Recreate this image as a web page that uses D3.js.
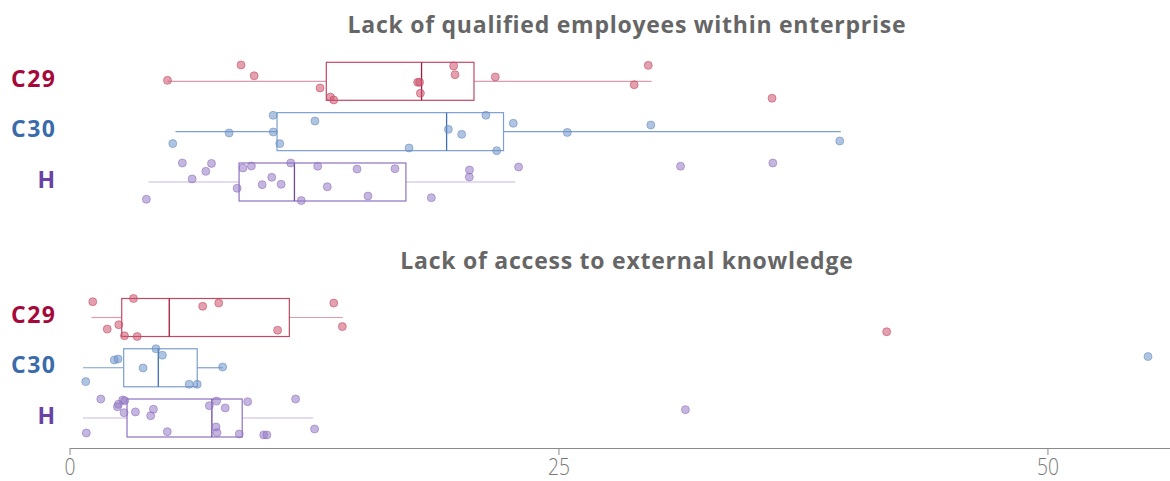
<!DOCTYPE html>
<html>
<head>
<meta charset="utf-8">
<script src="https://cdn.jsdelivr.net/npm/d3@7"></script>
<style>
  html, body { margin: 0; padding: 0; background: #fff; }
  svg { display: block; }
  .title { font-family: "Open Sans", "Noto Sans", sans-serif; font-weight: 700; fill: #666; }
  .cat { font-family: "Open Sans", "Noto Sans", sans-serif; font-weight: 700; }
  .tick text { font-family: "Open Sans", "Noto Sans", sans-serif; font-weight: 300; }
</style>
</head>
<body>
<svg id="chart" width="1170" height="481"></svg>
<script>
// Sectors shown in each panel
const categories = ["C29", "C30", "H"];
const panelTitles = [
  "Lack of qualified employees within enterprise",
  "Lack of access to external knowledge"
];
const xTicks = [0, 25, 50];

// Panel 1 – Lack of qualified employees within enterprise (per-enterprise values)
const qualifiedC29 = [5.01, 8.77, 9.44, 12.81, 13.34, 13.51, 17.8, 17.9, 17.94, 19.64, 19.71, 21.77, 28.87, 29.59, 35.92];
const qualifiedC30 = [10.41, 12.55, 8.16, 10.42, 5.28, 10.75, 17.36, 19.37, 20.05, 21.29, 21.84, 22.69, 25.45, 29.72, 39.38];
const qualifiedH = [5.77, 7.26, 6.97, 6.27, 3.93, 8.57, 8.87, 9.3, 9.85, 10.34, 10.82, 11.31, 11.85, 12.69, 13.18, 14.7, 15.26, 16.64, 18.5, 20.45, 20.44, 22.96, 31.24, 35.96];

// Panel 2 – Lack of access to external knowledge
const knowledgeC29 = [1.19, 3.27, 1.93, 2.52, 2.81, 3.46, 6.81, 7.63, 10.64, 13.51, 13.95, 41.78];
const knowledgeC30 = [4.42, 4.75, 2.29, 2.48, 3.76, 7.83, 0.83, 6.12, 6.53, 55.14];
const knowledgeH = [1.6, 2.72, 2.82, 2.5, 2.45, 2.79, 3.37, 4.29, 4.15, 0.86, 5.0, 7.15, 7.52, 7.96, 7.49, 7.54, 8.68, 9.11, 9.93, 10.09, 11.56, 12.53, 31.49];

// Vertical jitter of each point within its row, from -1 (top) to 1 (bottom)
const qualifiedC29Jitter = [-0.05, -0.86, -0.29, 0.35, 0.83, 0.98, 0.05, 0.05, 0.63, -0.81, -0.35, -0.23, 0.18, -0.84, 0.89];
const qualifiedC30Jitter = [-0.86, -0.56, 0.07, 0.02, 0.63, 0.63, 0.86, -0.12, 0.14, -0.86, 1.0, -0.44, 0.04, -0.35, 0.49];
const qualifiedHJitter = [-1.0, -0.98, -0.56, -0.16, 0.91, 0.33, -0.74, -0.84, 0.14, -0.25, 0.12, -1.0, 0.98, -0.83, 0.25, -0.68, 0.74, -0.7, 0.83, -0.63, -0.26, -0.79, -0.83, -1.0];
const knowledgeC29Jitter = [-0.83, -1.0, 0.61, 0.38, 0.96, 1.0, -0.59, -0.76, 0.67, -0.76, 0.48, 0.75];
const knowledgeC30Jitter = [-1.0, -0.66, -0.41, -0.46, 0.01, -0.04, 0.73, 0.87, 0.87, -0.59];
const knowledgeHJitter = [-1.0, -0.95, -0.91, -0.72, -0.59, -0.28, -0.32, -0.46, -0.12, 0.79, 0.72, -0.65, -0.89, -0.53, 0.47, 0.77, 0.84, -0.86, 0.89, 0.89, -1.0, 0.58, -0.44];

// Box statistics per sector: [lower whisker, Q1, median, Q3, upper whisker]
const qualifiedBoxes = [
  [5.01, 13.13, 18.0, 20.68, 29.76],
  [5.42, 10.61, 19.28, 22.19, 39.43],
  [4.04, 8.67, 11.5, 17.2, 22.79]
];
const knowledgeBoxes = [
  [1.12, 2.67, 5.1, 11.24, 13.97],
  [0.7, 2.77, 4.54, 6.53, 7.83],
  [0.69, 2.94, 7.28, 8.83, 12.46]
];

const panels = [
  { title: panelTitles[0], boxes: qualifiedBoxes,
    values: [qualifiedC29, qualifiedC30, qualifiedH],
    jitter: [qualifiedC29Jitter, qualifiedC30Jitter, qualifiedHJitter] },
  { title: panelTitles[1], boxes: knowledgeBoxes,
    values: [knowledgeC29, knowledgeC30, knowledgeH],
    jitter: [knowledgeC29Jitter, knowledgeC30Jitter, knowledgeHJitter] }
];

// Styling per sector
const palette = {
  C29: { label: "#a5093a", box: "#bf4a66", median: "#a8193f", whisker: "#dc9cac", fill: "rgba(204,82,108,0.55)", stroke: "rgba(196,70,98,0.55)" },
  C30: { label: "#3a6bab", box: "#7c9fcf", median: "#3f70b2", whisker: "#7d9fcf", fill: "rgba(110,148,200,0.55)", stroke: "rgba(100,138,192,0.55)" },
  H:   { label: "#6a42a5", box: "#8d70c0", median: "#6c48a8", whisker: "#c8b9e2", fill: "rgba(150,122,196,0.55)", stroke: "rgba(140,110,190,0.55)" }
};

const svg = d3.select("#chart");

const x = d3.scaleLinear().domain([0, 56.24]).range([69.5, 1169.5]);

const rowRanges = [[81.3, 182], [317.5, 418]];
const titleY = [25, 261];
const halfBox = 19;

panels.forEach((panel, pi) => {
  const y = d3.scalePoint().domain(categories).range(rowRanges[pi]);
  const g = svg.append("g");

  g.append("text")
    .attr("class", "title")
    .attr("x", 626.5 + 0.4)
    .attr("y", titleY[pi])
    .attr("dy", "0.35em")
    .attr("text-anchor", "middle")
    .attr("font-size", 23)
    .attr("letter-spacing", 0.75)
    .text(panel.title);

  categories.forEach((cat, ci) => {
    const c = palette[cat];
    const cy = y(cat);
    const [lo, q1, med, q3, hi] = panel.boxes[ci];
    const row = g.append("g");

    // whiskers
    row.append("line")
      .attr("x1", x(lo)).attr("x2", x(q1))
      .attr("y1", cy).attr("y2", cy)
      .attr("stroke", c.whisker).attr("stroke-width", 1.2);
    row.append("line")
      .attr("x1", x(q3)).attr("x2", x(hi))
      .attr("y1", cy).attr("y2", cy)
      .attr("stroke", c.whisker).attr("stroke-width", 1.2);

    // box
    row.append("rect")
      .attr("x", x(q1)).attr("y", cy - halfBox)
      .attr("width", x(q3) - x(q1)).attr("height", halfBox * 2)
      .attr("fill", "none")
      .attr("stroke", c.box).attr("stroke-width", 1.2);

    // median
    row.append("line")
      .attr("x1", x(med)).attr("x2", x(med))
      .attr("y1", cy - halfBox).attr("y2", cy + halfBox)
      .attr("stroke", c.median).attr("stroke-width", 1.3);

    // points
    row.selectAll("circle")
      .data(panel.values[ci].map((v, i) => ({ v, j: panel.jitter[ci][i] })))
      .join("circle")
      .attr("cx", d => x(d.v))
      .attr("cy", d => cy + d.j * halfBox)
      .attr("r", 4)
      .attr("fill", c.fill)
      .attr("stroke", c.stroke)
      .attr("stroke-width", 1);

    // category label
    g.append("text")
      .attr("class", "cat")
      .attr("x", 55 + 1.5)
      .attr("y", cy - 2.5)
      .attr("dy", "0.35em")
      .attr("text-anchor", "end")
      .attr("font-size", 23)
      .attr("letter-spacing", 1.5)
      .attr("fill", c.label)
      .text(cat);
  });
});

// shared x axis at the bottom
const axisG = svg.append("g")
  .attr("transform", "translate(0,448)")
  .call(d3.axisBottom(x).tickValues(xTicks).tickSize(7).tickPadding(3).tickSizeOuter(0));
axisG.select(".domain").attr("stroke", "#8a8a8a");
axisG.selectAll(".tick line").attr("stroke", "#8a8a8a");
axisG.selectAll(".tick text")
  .attr("fill", "#777")
  .attr("font-size", 24)
  .attr("transform", "scale(0.8,1)");
</script>
</body>
</html>
